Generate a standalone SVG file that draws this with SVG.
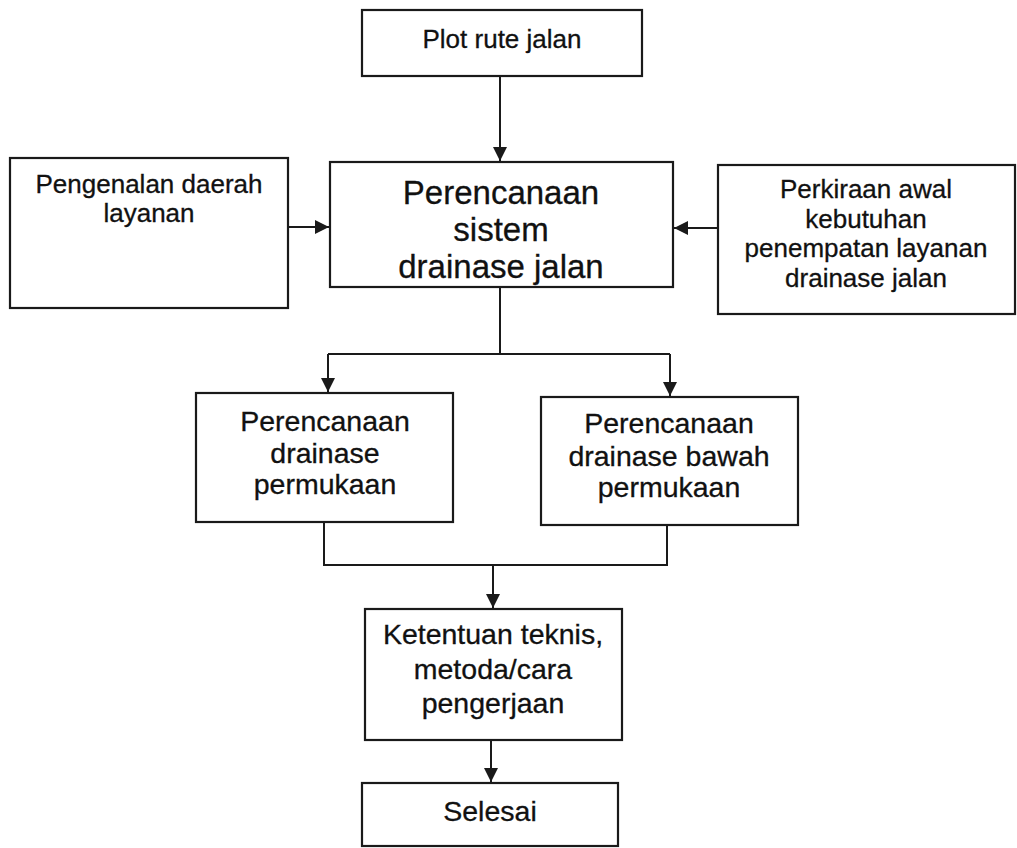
<svg xmlns="http://www.w3.org/2000/svg" width="1017" height="848" viewBox="0 0 1017 848">
<defs>
<marker id="ah" markerUnits="userSpaceOnUse" markerWidth="14" markerHeight="16" refX="14" refY="7" orient="auto">
<path d="M0,0 L14,7 L0,14 Z" fill="#1a1a1a"/>
</marker>
<style>
.box{fill:#fff;stroke:#1a1a1a;stroke-width:2.2}
.t{font-family:"Liberation Sans",Arial,sans-serif;fill:#111;stroke:#111;stroke-width:0.3;text-anchor:middle}
.s{font-size:26px}
.m{font-size:28.5px}
.l{font-size:33px}
.c{fill:none;stroke:#1a1a1a;stroke-width:2}
</style>
</defs>
<rect width="1017" height="848" fill="#fff"/>
<g id="connectors">
<line class="c" x1="500" y1="76" x2="500" y2="161" marker-end="url(#ah)"/>
<line class="c" x1="288" y1="227" x2="329" y2="227" marker-end="url(#ah)"/>
<line class="c" x1="718" y1="228" x2="674" y2="228" marker-end="url(#ah)"/>
<polyline class="c" points="500,287 500,354"/>
<polyline class="c" points="328,354 670,354"/>
<line class="c" x1="328" y1="354" x2="328" y2="392" marker-end="url(#ah)"/>
<line class="c" x1="670" y1="354" x2="670" y2="396" marker-end="url(#ah)"/>
<polyline class="c" points="324,522 324,565 667,565 667,525"/>
<line class="c" x1="493" y1="565" x2="493" y2="608" marker-end="url(#ah)"/>
<line class="c" x1="491" y1="740" x2="491" y2="782" marker-end="url(#ah)"/>
</g>
<g id="plot">
<rect class="box" x="362" y="10" width="280" height="66"/>
<text class="t s" x="502" y="48">Plot rute jalan</text>
</g>
<g id="pengenalan">
<rect class="box" x="10" y="158" width="278" height="150"/>
<text class="t s" x="149" y="193">Pengenalan daerah</text>
<text class="t s" x="149" y="222">layanan</text>
</g>
<g id="perencanaan-sistem">
<rect class="box" x="330" y="162" width="343" height="125"/>
<text class="t l" x="501" y="204">Perencanaan</text>
<text class="t l" x="501" y="241">sistem</text>
<text class="t l" x="501" y="278">drainase jalan</text>
</g>
<g id="perkiraan">
<rect class="box" x="718" y="165" width="297" height="149"/>
<text class="t s" x="866" y="198">Perkiraan awal</text>
<text class="t s" x="866" y="228">kebutuhan</text>
<text class="t s" x="866" y="257">penempatan layanan</text>
<text class="t s" x="866" y="287">drainase jalan</text>
</g>
<g id="permukaan">
<rect class="box" x="196" y="393" width="257" height="129"/>
<text class="t m" x="325" y="431">Perencanaan</text>
<text class="t m" x="325" y="463">drainase</text>
<text class="t m" x="325" y="494">permukaan</text>
</g>
<g id="bawah-permukaan">
<rect class="box" x="541" y="397" width="257" height="128"/>
<text class="t m" x="669" y="433">Perencanaan</text>
<text class="t m" x="669" y="466">drainase bawah</text>
<text class="t m" x="669" y="497">permukaan</text>
</g>
<g id="ketentuan">
<rect class="box" x="365" y="609" width="257" height="131"/>
<text class="t m" x="493" y="644">Ketentuan teknis,</text>
<text class="t m" x="493" y="679">metoda/cara</text>
<text class="t m" x="493" y="713">pengerjaan</text>
</g>
<g id="selesai">
<rect class="box" x="362" y="783" width="256" height="63"/>
<text class="t m" x="490" y="821">Selesai</text>
</g>
</svg>
